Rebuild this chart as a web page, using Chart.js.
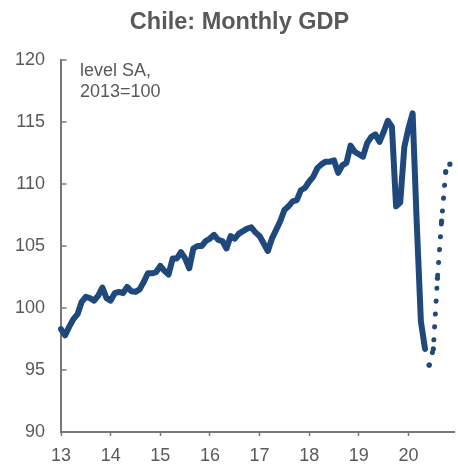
<!DOCTYPE html>
<html><head><meta charset="utf-8">
<script src="https://cdn.jsdelivr.net/npm/chart.js@4/dist/chart.umd.min.js"></script>
<style>
html,body{margin:0;padding:0;background:#fff;}
#wrap{position:relative;width:458px;height:465px;overflow:hidden;}
#c{position:absolute;left:0;top:0;}
#title{position:absolute;left:0;top:7.7px;width:479px;text-align:center;font:bold 23.5px 'Liberation Sans',Arial,sans-serif;line-height:27px;color:#595959;white-space:nowrap;}
#note{position:absolute;left:80px;top:60px;font:18px 'Liberation Sans',Arial,sans-serif;line-height:20.6px;color:#595959;white-space:pre;}
</style></head><body>
<div id="wrap">
<canvas id="c" width="458" height="465" style="width:458px;height:465px"></canvas>
<div id="title">Chile: Monthly GDP</div>
<div id="note">level SA,
2013=100</div>
</div>
<script>
// ---- data ----
const years = [2013, 2014, 2015, 2016, 2017, 2018, 2019, 2020];
const monthNames = ['Jan','Feb','Mar','Apr','May','Jun','Jul','Aug','Sep','Oct','Nov','Dec'];
const yearTickLabels = ['13','14','15','16','17','18','19','20'];
const yTickValues = [90, 95, 100, 105, 110, 115, 120];

// Monthly GDP, level SA, 2013=100 (Jan 2013 - May 2020)
const gdpActual = [
  98.3, 97.8, 98.5, 99.1, 99.5, 100.5, 100.9, 100.8, 100.6, 101.0, 101.65, 100.8,
  100.6, 101.2, 101.3, 101.2, 101.7, 101.35, 101.3, 101.5, 102.1, 102.8, 102.8, 102.9,
  103.4, 103.0, 102.7, 104.0, 104.0, 104.5, 104.0, 103.2, 104.8, 105.0, 105.0, 105.4,
  105.6, 105.9, 105.5, 105.4, 104.8, 105.8, 105.6, 106.0, 106.2, 106.4, 106.5, 106.1,
  105.8, 105.2, 104.6, 105.6, 106.3, 107.0, 107.9, 108.2, 108.6, 108.7, 109.5, 109.7,
  110.2, 110.6, 111.3, 111.6, 111.8, 111.8, 111.9, 110.9, 111.5, 111.7, 113.1, 112.6,
  112.4, 112.2, 113.3, 113.8, 114.0, 113.4, 114.2, 115.1, 114.6, 108.2, 108.5, 113.0,
  114.5, 115.7, 106.8, 98.9, 96.7
];
// Projection (dotted), Jun 2020 - Nov 2020
const gdpProjectionStart = 'Jun 2020';
const gdpProjection = [95.4, 96.7, 102.4, 107.0, 111.0, 111.6];

// ---- build category labels / series ----
const categories = [];
years.forEach(y => monthNames.forEach(m => categories.push(m + ' ' + y)));
const projStartIdx = categories.indexOf(gdpProjectionStart);
const actualSeries = categories.map((c, i) => i < gdpActual.length ? gdpActual[i] : null);
const projSeries = categories.map((c, i) => {
  const k = i - projStartIdx;
  return (k >= 0 && k < gdpProjection.length) ? gdpProjection[k] : null;
});

const FONT = "'Liberation Sans', Arial, sans-serif";
const TXT = '#595959';
const AX = '#777777';
const BLUE = '#1F497D';

const innerYTicks = {
  id: 'innerYTicks',
  afterDraw(chart) {
    const {ctx, chartArea, scales: {y}} = chart;
    ctx.save();
    ctx.strokeStyle = AX;
    ctx.lineWidth = 1.5;
    y.ticks.forEach(t => {
      const py = Math.round(y.getPixelForValue(t.value));
      ctx.beginPath();
      ctx.moveTo(chartArea.left, py);
      ctx.lineTo(chartArea.left + 5.5, py);
      ctx.stroke();
    });
    ctx.restore();
  }
};

new Chart(document.getElementById('c'), {
  type: 'line',
  data: {
    labels: categories,
    datasets: [
      {
        label: 'GDP',
        data: actualSeries,
        borderColor: BLUE,
        backgroundColor: BLUE,
        borderWidth: 6,
        pointRadius: 0,
        tension: 0,
        borderJoinStyle: 'round',
        borderCapStyle: 'round',
        spanGaps: false
      },
      {
        label: 'Projection',
        data: projSeries,
        borderColor: BLUE,
        backgroundColor: BLUE,
        borderWidth: 5,
        borderDash: [0.1, 12.8],
        borderCapStyle: 'round',
        borderJoinStyle: 'round',
        pointRadius: 2.6,
        pointBorderWidth: 0,
        pointBackgroundColor: BLUE,
        tension: 0,
        spanGaps: false
      }
    ]
  },
  options: {
    responsive: false,
    animation: false,
    devicePixelRatio: 1,
    layout: { padding: { left: 0, right: 2, top: 60, bottom: 0 } },
    plugins: {
      legend: { display: false },
      tooltip: { enabled: false },
      title: { display: false }
    },
    scales: {
      x: {
        type: 'category',
        offset: false,
        grid: {
          drawOnChartArea: false,
          drawTicks: true,
          tickLength: 4,
          tickWidth: 1.5,
          tickColor: ctx => (ctx.index % 12 === 0) ? AX : 'rgba(0,0,0,0)'
        },
        border: { display: true, color: AX, width: 2 },
        ticks: {
          autoSkip: false,
          maxRotation: 0,
          minRotation: 0,
          padding: 9.5,
          color: TXT,
          font: { family: FONT, size: 18 },
          callback: (v, i) => (i % 12 === 0) ? yearTickLabels[i / 12] : ''
        },
        afterFit: s => { s.height = 33; s.paddingLeft = 0; s.paddingRight = 0; }
      },
      y: {
        min: 90,
        max: 120,
        afterBuildTicks: s => { s.ticks = yTickValues.map(v => ({ value: v })); },
        grid: { drawOnChartArea: false, drawTicks: false },
        border: { display: true, color: AX, width: 2 },
        ticks: {
          padding: 16,
          color: TXT,
          font: { family: FONT, size: 18 }
        },
        afterFit: s => { s.width = 61; s.paddingTop = 0; s.paddingBottom = 0; }
      }
    }
  },
  plugins: [innerYTicks]
});
</script>
</body></html>
